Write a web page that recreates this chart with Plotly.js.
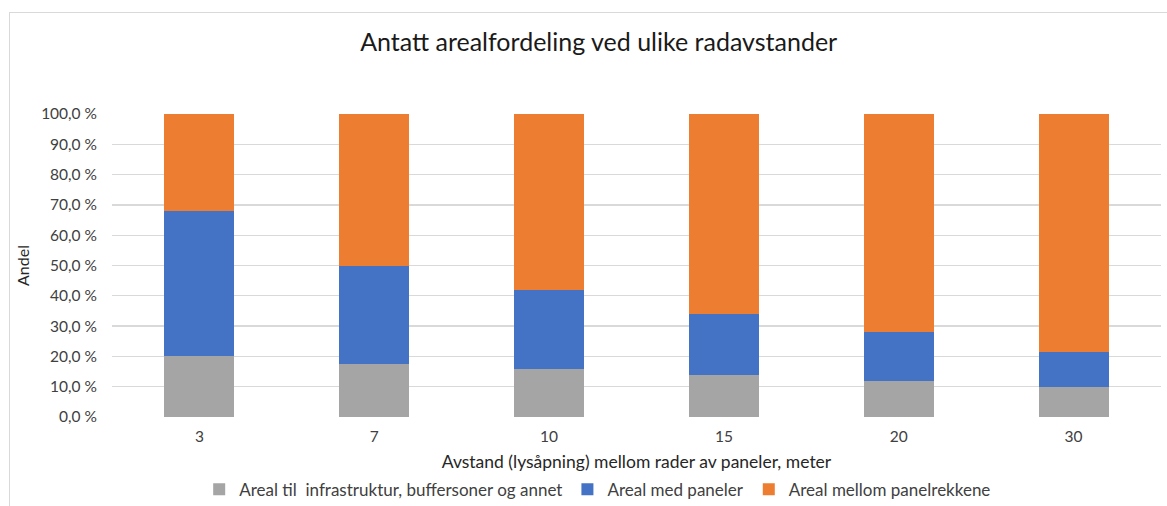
<!DOCTYPE html>
<html>
<head>
<meta charset="utf-8">
<script src="https://cdn.plot.ly/plotly-3.0.1.min.js"></script>
<style>
html,body{margin:0;padding:0;background:#fff;}
#wrap{position:absolute;left:0;top:0;width:1167px;height:506px;}
#frame{position:absolute;left:9px;top:12px;width:1170px;height:500px;border-left:1px solid #d9d9d9;border-top:1px solid #d9d9d9;pointer-events:none;}
#chart{position:absolute;left:0;top:0;width:1167px;height:506px;}
</style>
</head>
<body>
<div id="wrap">
<div id="chart"></div>
<div id="frame"></div>
</div>
<script>
const categories = ["3", "7", "10", "15", "20", "30"];
const infrastruktur = [20, 17.5, 16, 14, 12, 10];
const paneler = [48, 32.5, 26, 20, 16, 11.6];
const mellom = [32, 50, 58, 66, 72, 78.4];
const tickValues = [0, 10, 20, 30, 40, 50, 60, 70, 80, 90, 100];
const tickLabels = ["0,0 %", "10,0 %", "20,0 %", "30,0 %", "40,0 %", "50,0 %", "60,0 %", "70,0 %", "80,0 %", "90,0 %", "100,0 %"];
const seriesNames = ["Areal til  infrastruktur, buffersoner og annet", "Areal med paneler", "Areal mellom panelrekkene"];

const font = "Lato, 'Open Sans', sans-serif";
const traces = [
  {type: "bar", name: seriesNames[0], x: categories, y: infrastruktur, marker: {color: "#a5a5a5"}},
  {type: "bar", name: seriesNames[1], x: categories, y: paneler, marker: {color: "#4472c4"}},
  {type: "bar", name: seriesNames[2], x: categories, y: mellom, marker: {color: "#ed7d31"}}
].map(t => Object.assign(t, {hoverinfo: "none"}));

const layout = {
  width: 1167, height: 506,
  margin: {l: 112, r: 6, t: 114, b: 89},
  paper_bgcolor: "#ffffff", plot_bgcolor: "#ffffff",
  barmode: "stack", bargap: 0.6,
  font: {family: font, size: 15, color: "#404040"},
  title: {text: "Antatt arealfordeling ved ulike radavstander", font: {family: font, size: 25, color: "#1a1a1a"}, x: 0.513, xanchor: "center", y: 0.917, yanchor: "middle"},
  xaxis: {type: "category", automargin: false, showgrid: false, showline: false, ticks: "", ticklabelstandoff: 8, tickfont: {size: 15.5, color: "#404040"},
    title: {text: "Avstand (lysåpning) mellom rader av paneler, meter", font: {size: 17.5, color: "#262626"}, standoff: 13}},
  yaxis: {range: [0, 100], automargin: false, tickvals: tickValues, ticktext: tickLabels, showgrid: true, gridcolor: "#d9d9d9", gridwidth: 1.3,
    zeroline: false, showline: false, ticks: "", ticklabelstandoff: 14, tickfont: {size: 15.5, color: "#404040"},
    title: {text: "Andel", font: {size: 16, color: "#262626"}, standoff: 7}},
  legend: {orientation: "h", x: 0.463, xanchor: "center", yref: "container", y: 0.032, yanchor: "middle", traceorder: "normal",
    font: {size: 17, color: "#404040"}, itemwidth: 20, itemclick: false},
  showlegend: true
};
Plotly.newPlot("chart", traces, layout, {staticPlot: true, displayModeBar: false});
</script>
</body>
</html>
